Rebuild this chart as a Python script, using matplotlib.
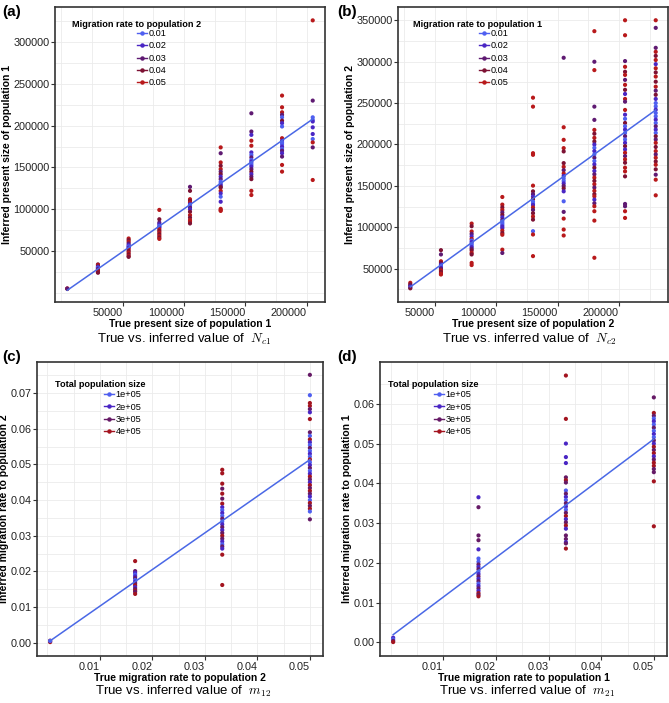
import numpy as np
import matplotlib
matplotlib.use("Agg")
import matplotlib.pyplot as plt
from matplotlib.lines import Line2D
from matplotlib.ticker import FixedLocator, FuncFormatter

plt.rcParams['font.family'] = ['Liberation Sans', 'DejaVu Sans']
plt.rcParams['mathtext.fontset'] = 'cm'

# ── data ──────────────────────────────────────────────────────────
# (a) true vs inferred Nc1, coloured by migration rate to population 2
A_X = [5000, 30000, 55000, 80000, 105000, 130000, 155000, 180000, 205000]
A_Y = [
    [4800, 5200, 5000],
    [34000, 33000, 31500, 30500, 30000, 29500, 29000, 28000, 27000, 26000, 25000, 24000],
    [65000, 63000, 61000, 59000, 57000, 55500, 55000, 54000, 52000, 50000, 48000, 46000, 44000, 43000],
    [99200, 88000, 84000, 82000, 80000, 79000, 78000, 76000, 74000, 72000, 70000, 68000, 66000, 64500],
    [126800, 122000, 112000, 110000, 108000, 106000, 105000, 104000, 102000, 100000, 97000, 93000,
     90000, 87000, 85000, 83000],
    [174000, 167000, 156000, 152000, 148000, 145000, 142000, 139000, 136000, 133000, 131000, 129000,
     127000, 126000, 122000, 119000, 115000, 109000, 100500, 99000, 98000],
    [214800, 193000, 189000, 182000, 176000, 168000, 165000, 162000, 159000, 157000, 155000, 153000,
     151000, 148000, 145000, 142000, 139000, 136000, 122000, 117000],
    [236000, 222000, 216000, 213000, 210000, 206000, 203000, 199000, 185000, 182000, 180000, 178000,
     175000, 172000, 170000, 167000, 163000, 153000, 145000],
    [326000, 230000, 210000, 207000, 205000, 198000, 190000, 184000, 180000, 174000, 135000],
]
A_L = [
    [4, 5, 3],
    [4, 5, 3, 2, 1, 1, 2, 3, 5, 4, 5, 4],
    [5, 4, 5, 3, 2, 1, 1, 2, 5, 4, 5, 4, 5, 4],
    [5, 4, 3, 2, 1, 1, 2, 5, 4, 5, 4, 5, 4, 5],
    [3, 4, 5, 4, 5, 2, 1, 1, 3, 2, 4, 5, 4, 5, 5, 4],
    [5, 3, 5, 4, 5, 3, 4, 2, 3, 1, 1, 2, 3, 4, 5, 2, 1, 2, 5, 5, 5],
    [3, 3, 2, 5, 5, 2, 1, 3, 1, 2, 1, 1, 2, 3, 4, 2, 3, 4, 5, 5],
    [5, 5, 5, 3, 1, 4, 2, 1, 5, 2, 1, 1, 2, 1, 3, 2, 3, 5, 5],
    [5, 3, 1, 1, 2, 2, 2, 1, 5, 3, 5],
]

# (b) true vs inferred Nc2, coloured by migration rate to population 1
B_X = [30000, 55000, 80000, 105000, 130000, 155000, 180000, 205000, 230000]
B_Y = [
    [33000, 31000, 29500, 28000, 27000, 26300],
    [72400, 67200, 59000, 57000, 55000, 53000, 52000, 51000, 50000, 48000, 46000, 44000, 43000],
    [104500, 101300, 95000, 92000, 89000, 86000, 84000, 82000, 80000, 78000, 76000, 74000, 72000,
     69000, 67200, 57000, 54400],
    [136600, 127400, 124000, 121000, 118000, 115000, 112000, 109000, 107000, 105000, 103000, 101000,
     99000, 96000, 93000, 91000, 73000, 69000],
    [256500, 245700, 189500, 187500, 150300, 143400, 140000, 137000, 134000, 131000, 129000, 127000,
     124000, 121000, 117000, 113000, 109300, 95300, 91300, 65200],
    [304700, 220800, 205600, 195600, 191600, 177500, 173000, 169000, 165000, 162000, 159000, 156000,
     153000, 150000, 147000, 143400, 131400, 118600, 110500, 97300, 90100],
    [336800, 299900, 289800, 245700, 229700, 217600, 213000, 208000, 203600, 200000, 196000, 192000,
     188000, 184000, 180000, 176000, 172000, 168000, 164000, 160000, 156000, 152000, 148000, 144000,
     140000, 137400, 133400, 129000, 125400, 119400, 108100, 63200],
    [350000, 331900, 300700, 293800, 287800, 284000, 278000, 272000, 266000, 261000, 255000, 251700,
     241700, 236000, 231000, 226000, 222000, 218000, 214000, 210000, 206000, 202000, 198000, 194000,
     190000, 186000, 182000, 178000, 172000, 167500, 161500, 128200, 125400, 119400, 111300],
    [350000, 340800, 316700, 311900, 307000, 302000, 297000, 292000, 287000, 282000, 275800, 269800,
     265000, 260000, 255000, 250000, 246000, 242000, 238000, 234000, 230000, 226000, 222000, 218000,
     214000, 210000, 206000, 202000, 197000, 192000, 188000, 184000, 179500, 175500, 170000, 163500,
     157500, 138600],
]
B_L = [
    [5, 4, 3, 2, 1, 4],
    [4, 3, 5, 4, 2, 1, 1, 2, 3, 5, 4, 5, 5],
    [5, 4, 5, 3, 2, 5, 1, 2, 1, 1, 2, 3, 4, 5, 4, 5, 5],
    [5, 5, 4, 5, 3, 4, 2, 3, 1, 1, 1, 2, 2, 5, 4, 5, 5, 3],
    [5, 5, 5, 5, 5, 4, 3, 2, 4, 1, 1, 2, 5, 3, 4, 5, 4, 1, 5, 5],
    [3, 5, 5, 5, 4, 4, 5, 3, 5, 2, 1, 1, 2, 3, 4, 2, 1, 3, 5, 5, 5],
    [5, 3, 5, 3, 3, 5, 4, 5, 4, 2, 1, 2, 1, 3, 1, 2, 4, 2, 3, 5, 4, 5, 3, 5, 4, 5, 2, 3, 5, 5, 5, 5],
    [5, 5, 3, 5, 4, 5, 3, 5, 4, 2, 5, 3, 5, 2, 1, 4, 1, 2, 1, 3, 1, 2, 4, 2, 5, 3, 5, 4, 5, 5,
     4, 3, 3, 5, 5],
    [5, 3, 3, 5, 4, 5, 2, 5, 4, 5, 4, 5, 3, 4, 2, 1, 1, 2, 1, 1, 2, 1, 3, 2, 1, 4, 3, 5, 4, 5,
     3, 5, 4, 5, 4, 3, 5, 5],
]

# (c) true vs inferred m12, coloured by total population size
C_X = [0.0005, 0.0167, 0.0333, 0.05]
C_Y = [
    [0.0004, 0.0006, 0.0002, 0.0005],
    [0.0229, 0.0201, 0.0196, 0.0191, 0.0186, 0.0181, 0.0176, 0.0171, 0.0166, 0.0161, 0.0156, 0.0151,
     0.0146, 0.0143, 0.0137],
    [0.0485, 0.0475, 0.0446, 0.0432, 0.0418, 0.0404, 0.0390, 0.0380, 0.0372, 0.0364, 0.0356, 0.0348,
     0.0340, 0.0332, 0.0324, 0.0316, 0.0308, 0.0300, 0.0292, 0.0284, 0.0276, 0.0270, 0.0264, 0.0247,
     0.0162],
    [0.0751, 0.0694, 0.0672, 0.0664, 0.0655, 0.0646, 0.0627, 0.0590, 0.0580, 0.0570, 0.0562, 0.0554,
     0.0546, 0.0538, 0.0530, 0.0522, 0.0514, 0.0506, 0.0498, 0.0490, 0.0482, 0.0474, 0.0466, 0.0458,
     0.0450, 0.0442, 0.0434, 0.0426, 0.0418, 0.0410, 0.0400, 0.0392, 0.0384, 0.0376, 0.0368, 0.0346],
]
C_L = [
    [2, 3, 4, 1],
    [4, 3, 2, 1, 2, 3, 1, 2, 3, 4, 2, 3, 4, 3, 4],
    [4, 4, 4, 3, 4, 3, 4, 2, 1, 2, 1, 3, 1, 2, 3, 2, 3, 4, 3, 2, 1, 3, 2, 4, 4],
    [3, 1, 4, 4, 3, 2, 4, 3, 1, 4, 2, 1, 3, 1, 2, 1, 4, 1, 2, 3, 1, 2, 4, 3, 2, 4, 3, 4, 3, 2,
     1, 4, 3, 4, 1, 3],
]

# (d) true vs inferred m21, coloured by total population size
D_X = [0.0005, 0.0167, 0.0333, 0.05]
D_Y = [
    [0.0012, 0.0008, 0.0004, 0.0001],
    [0.0365, 0.0340, 0.0269, 0.0257, 0.0234, 0.0211, 0.0203, 0.0196, 0.0190, 0.0184, 0.0178, 0.0172,
     0.0166, 0.0160, 0.0154, 0.0148, 0.0142, 0.0136, 0.0130, 0.0124, 0.0120, 0.0116],
    [0.0671, 0.0562, 0.0500, 0.0466, 0.0451, 0.0415, 0.0408, 0.0402, 0.0382, 0.0374, 0.0366, 0.0358,
     0.0350, 0.0342, 0.0334, 0.0326, 0.0318, 0.0310, 0.0302, 0.0294, 0.0286, 0.0269, 0.0260, 0.0252,
     0.0249, 0.0236],
    [0.0616, 0.0577, 0.0570, 0.0563, 0.0556, 0.0548, 0.0540, 0.0532, 0.0524, 0.0516, 0.0508, 0.0500,
     0.0492, 0.0484, 0.0476, 0.0468, 0.0460, 0.0452, 0.0444, 0.0436, 0.0428, 0.0405, 0.0292],
]
D_L = [
    [2, 1, 3, 4],
    [2, 3, 3, 3, 2, 1, 1, 3, 2, 3, 1, 2, 3, 2, 3, 1, 2, 3, 2, 4, 3, 4],
    [4, 4, 2, 2, 2, 3, 4, 3, 1, 3, 2, 1, 3, 2, 1, 3, 4, 2, 3, 4, 2, 3, 3, 2, 3, 4],
    [3, 4, 3, 1, 2, 1, 3, 1, 2, 1, 3, 2, 4, 3, 4, 2, 3, 4, 4, 3, 3, 4, 4],
]

MIG_LEVELS = ['0.01', '0.02', '0.03', '0.04', '0.05']
POP_LEVELS = ['1e+05', '2e+05', '3e+05', '4e+05']

MIG_COLORS = ['#4f5ff0', '#4a26c4', '#5f1a72', '#7d1234', '#b8191b']
POP_COLORS = ['#4f5ff0', '#4a26c4', '#661a66', '#a3141f']
LINE_COLOR = '#4a68e6'
GRID_COLOR = '#ebebeb'
SPINE_COLOR = '#333333'


def draw_panel(ax, xs, ys, lvls, colors, levels, leg_title, title_pos, leg_pos):
    px, py, pc = [], [], []
    for x, col_y, col_l in zip(xs, ys, lvls):
        for y, l in zip(col_y, col_l):
            px.append(x)
            py.append(y)
            pc.append(colors[l - 1])
    ax.scatter(px, py, s=9, c=pc, linewidths=0, zorder=2)

    # straight fit through the column means (every true value weighs the same)
    means = [np.mean(col) for col in ys]
    fit = np.polyfit(xs, means, 1)
    xx = np.array([min(xs), max(xs)])
    ax.plot(xx, np.polyval(fit, xx), color=LINE_COLOR, lw=1.1, zorder=3)

    for s in ax.spines.values():
        s.set_color(SPINE_COLOR)
        s.set_linewidth(1.2)
    ax.set_axisbelow(True)
    ax.grid(True, which='both', color=GRID_COLOR, lw=0.6)
    ax.tick_params(which='major', length=3, width=0.8, color=SPINE_COLOR,
                   labelsize=7.8, labelcolor='#222222', pad=1)
    ax.tick_params(which='minor', length=0)

    ax.text(title_pos[0], title_pos[1], leg_title, transform=ax.transAxes,
            fontsize=6.6, fontweight='bold', ha='left', va='center')
    handles = [Line2D([0], [0], color=c, lw=1.0, marker='o', markersize=2.2)
               for c in colors]
    leg = ax.legend(handles, levels, loc='upper left', bbox_to_anchor=leg_pos,
                    frameon=False, fontsize=6.6, handlelength=1.1,
                    handletextpad=0.15, labelspacing=0.36, borderpad=0,
                    borderaxespad=0)
    return leg


def label_axes(ax, xlabel, ylabel):
    ax.set_xlabel(xlabel, fontsize=7.5, fontweight='bold', labelpad=1)
    ax.set_ylabel(ylabel, fontsize=7.5, fontweight='bold', labelpad=1)


fig = plt.figure(figsize=(6.69, 7.03), dpi=100)
W, H = 669.0, 703.0


def add_axes(left, top, right, bottom):
    return fig.add_axes([left / W, 1 - bottom / H, (right - left) / W, (bottom - top) / H])


int_fmt = FuncFormatter(lambda v, _: f"{v:.0f}")
two_fmt = FuncFormatter(lambda v, _: f"{v:.2f}")

# ── (a) ──
ax = add_axes(55, 7, 325, 302)
draw_panel(ax, A_X, A_Y, A_L, MIG_COLORS, MIG_LEVELS,
           'Migration rate to population 2', (0.063, 0.942), (0.305, 0.925))
ax.set_xlim(-5000, 215000)
ax.set_ylim(-11000, 342000)
ax.xaxis.set_major_locator(FixedLocator([50000, 100000, 150000, 200000]))
ax.xaxis.set_minor_locator(FixedLocator(np.arange(0, 225001, 25000)))
ax.yaxis.set_major_locator(FixedLocator(np.arange(50000, 300001, 50000)))
ax.yaxis.set_minor_locator(FixedLocator(np.arange(0, 350001, 25000)))
ax.xaxis.set_major_formatter(int_fmt)
ax.yaxis.set_major_formatter(int_fmt)
plt.setp(ax.get_xticklabels(), ha='right')
label_axes(ax, 'True present size of population 1', 'Inferred present size of population 1')

# ── (b) ──
ax = add_axes(398, 7, 668, 302)
draw_panel(ax, B_X, B_Y, B_L, MIG_COLORS, MIG_LEVELS,
           'Migration rate to population 1', (0.056, 0.942), (0.3, 0.925))
ax.set_xlim(20000, 240000)
ax.set_ylim(9800, 366000)
ax.xaxis.set_major_locator(FixedLocator([50000, 100000, 150000, 200000]))
ax.xaxis.set_minor_locator(FixedLocator(np.arange(0, 250001, 25000)))
ax.yaxis.set_major_locator(FixedLocator(np.arange(50000, 350001, 50000)))
ax.yaxis.set_minor_locator(FixedLocator(np.arange(0, 375001, 25000)))
ax.xaxis.set_major_formatter(int_fmt)
ax.yaxis.set_major_formatter(int_fmt)
plt.setp(ax.get_xticklabels(), ha='right')
label_axes(ax, 'True present size of population 2', 'Inferred present size of population 2')

# ── (c) ──
ax = add_axes(37, 362, 323, 656)
draw_panel(ax, C_X, C_Y, C_L, POP_COLORS, POP_LEVELS,
           'Total population size', (0.064, 0.924), (0.235, 0.904))
ax.set_xlim(-0.002, 0.0525)
ax.set_ylim(-0.0037, 0.0787)
ax.xaxis.set_major_locator(FixedLocator([0.01, 0.02, 0.03, 0.04, 0.05]))
ax.xaxis.set_minor_locator(FixedLocator(np.arange(0, 0.0551, 0.005)))
ax.yaxis.set_major_locator(FixedLocator(np.arange(0, 0.0701, 0.01)))
ax.yaxis.set_minor_locator(FixedLocator(np.arange(0.005, 0.0801, 0.01)))
ax.xaxis.set_major_formatter(two_fmt)
ax.yaxis.set_major_formatter(two_fmt)
plt.setp(ax.get_xticklabels(), ha='right')
label_axes(ax, 'True migration rate to population 2', 'Inferred migration rate to population 2')

# ── (d) ──
ax = add_axes(380, 362, 667, 656)
draw_panel(ax, D_X, D_Y, D_L, POP_COLORS, POP_LEVELS,
           'Total population size', (0.029, 0.924), (0.188, 0.904))
ax.set_xlim(-0.002, 0.0525)
ax.set_ylim(-0.0034, 0.0705)
ax.xaxis.set_major_locator(FixedLocator([0.01, 0.02, 0.03, 0.04, 0.05]))
ax.xaxis.set_minor_locator(FixedLocator(np.arange(0, 0.0551, 0.005)))
ax.yaxis.set_major_locator(FixedLocator(np.arange(0, 0.0601, 0.01)))
ax.yaxis.set_minor_locator(FixedLocator(np.arange(0.005, 0.0701, 0.01)))
ax.xaxis.set_major_formatter(two_fmt)
ax.yaxis.set_major_formatter(two_fmt)
plt.setp(ax.get_xticklabels(), ha='right')
label_axes(ax, 'True migration rate to population 1', 'Inferred migration rate to population 1')

# subtitles and panel letters
fig.text(184 / W, 1 - 339 / H, r'True vs. inferred value of  $N_{c1}$', ha='center', va='center', fontsize=9.5)
fig.text(529 / W, 1 - 339 / H, r'True vs. inferred value of  $N_{c2}$', ha='center', va='center', fontsize=9.5)
fig.text(183 / W, 1 - 691 / H, r'True vs. inferred value of  $m_{12}$', ha='center', va='center', fontsize=9.5)
fig.text(527 / W, 1 - 691 / H, r'True vs. inferred value of  $m_{21}$', ha='center', va='center', fontsize=9.5)

for lbl, x, y in [('(a)', 2, 12), ('(b)', 337, 12), ('(c)', 2, 357), ('(d)', 337, 357)]:
    fig.text(x / W, 1 - y / H, lbl, ha='left', va='center', fontsize=11, fontweight='bold')

fig.savefig('out.png', dpi=100)
